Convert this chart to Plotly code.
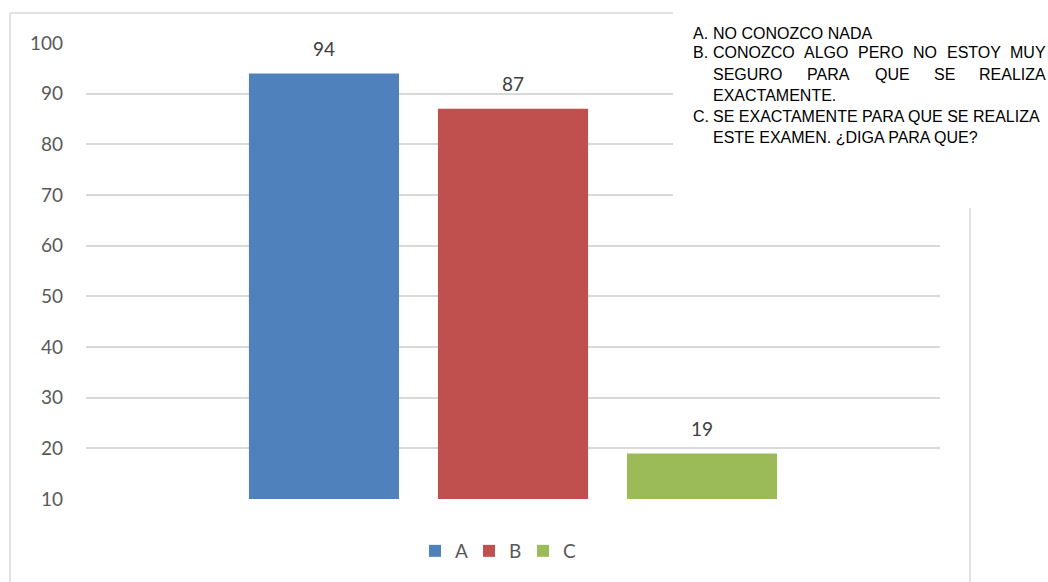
import plotly.graph_objects as go

# Survey answers
categories = ["A", "B", "C"]
values = [94, 87, 19]
colors = ["#4f81bd", "#c0504d", "#9bbb59"]
y_ticks = [10, 20, 30, 40, 50, 60, 70, 80, 90, 100]

W, H = 1048, 582
L, R, T, B = 86, 108, 43, 83
PW, PH = W - L - R, H - T - B


def px(x):
    return (x - L) / PW


def py(y):
    return (H - B - y) / PH


fig = go.Figure()
for i, (cat, val, col) in enumerate(zip(categories, values, colors)):
    fig.add_trace(go.Bar(x=[i], y=[val], name=cat, marker_color=col,
                         width=0.794, marker_line_width=0))
    fig.add_annotation(x=i, y=val, text=str(val), showarrow=False,
                       yshift=25, font=dict(family="Lato", size=19, color="#404040"))

# key for the answer letters
font_key = dict(family="Liberation Sans", size=16, color="#000000")
key_lines = [
    (691, 33, "A."), (711, 33, "NO CONOZCO NADA"),
    (691, 53, "B."),
    (711, 95, "EXACTAMENTE."),
    (691, 116, "C."), (711, 116, "SE EXACTAMENTE PARA QUE SE REALIZA"),
    (711, 137, "ESTE EXAMEN. ¿DIGA PARA QUE?"),
]
# justified lines: words spread between the left indent and the right edge
justified = [
    (53, ["CONOZCO", "ALGO", "PERO", "NO", "ESTOY", "MUY"], [711, 802, 856, 911, 945, 1008]),
    (74, ["SEGURO", "PARA", "QUE", "SE", "REALIZA"], [711, 805, 873, 932, 977]),
]
for x0, y0, txt in key_lines:
    fig.add_annotation(xref="paper", yref="paper", x=px(x0), y=py(y0), text=txt,
                       showarrow=False, xanchor="left", yanchor="middle", font=font_key)
for y0, words, xs in justified:
    for w, x0 in zip(words, xs):
        fig.add_annotation(xref="paper", yref="paper", x=px(x0), y=py(y0), text=w,
                           showarrow=False, xanchor="left", yanchor="middle", font=font_key)

frame = dict(color="#d9d9d9", width=1.5)
fig.add_shape(type="rect", xref="paper", yref="paper", x0=px(673), x1=px(1048),
              y0=py(205), y1=py(0), fillcolor="white", line_width=0, layer="above")
fig.add_shape(type="line", xref="paper", yref="paper", x0=px(10), x1=px(10),
              y0=py(13), y1=py(582), line=frame)
fig.add_shape(type="line", xref="paper", yref="paper", x0=px(10), x1=px(673),
              y0=py(13), y1=py(13), line=frame)
fig.add_shape(type="line", xref="paper", yref="paper", x0=px(970), x1=px(970),
              y0=py(208), y1=py(582), line=frame)

fig.update_layout(
    width=W, height=H,
    margin=dict(l=L, r=R, t=T, b=B),
    paper_bgcolor="white", plot_bgcolor="white",
    barmode="overlay",
    showlegend=True,
    legend=dict(orientation="h", x=px(496), xanchor="center", y=py(551), yanchor="middle",
                font=dict(family="Lato", size=19, color="#595959"),
                itemwidth=30, entrywidth=9, traceorder="normal"),
    xaxis=dict(range=[-1.259, 3.259], showticklabels=False, showgrid=False,
               zeroline=False, showline=False, fixedrange=True),
    yaxis=dict(range=[10, 100], tickvals=y_ticks, showgrid=True, gridcolor="#d9d9d9",
               gridwidth=1.5, zeroline=False, showline=False,
               tickfont=dict(family="Lato", size=19, color="#595959"),
               ticklabelstandoff=22),
)

fig.write_html("out.html")
